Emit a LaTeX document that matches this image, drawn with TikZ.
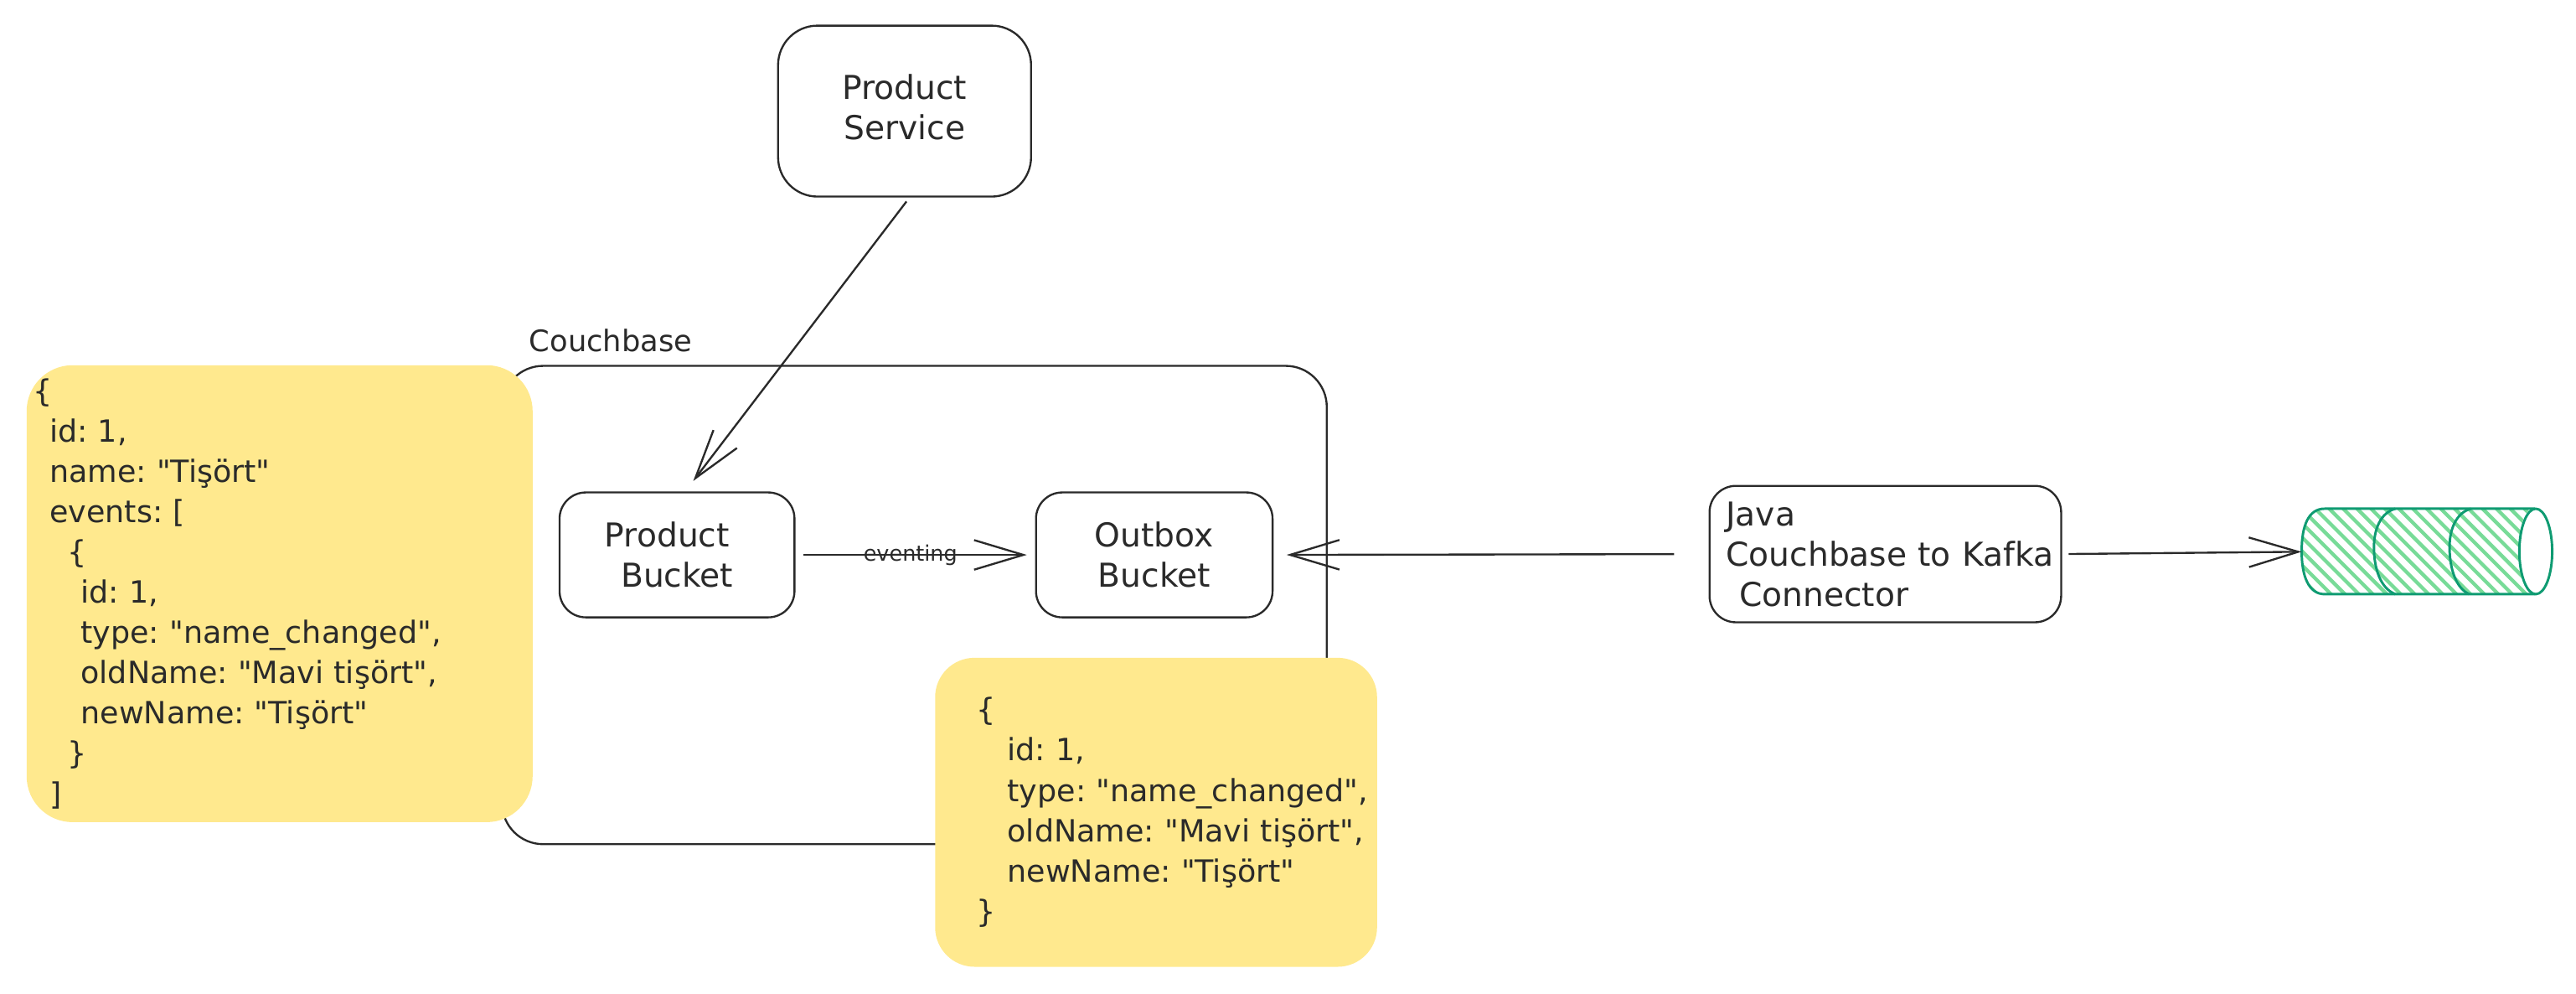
\documentclass[tikz,border=0pt]{standalone}
\usepackage{fontspec}
\setmainfont{DejaVu Sans}[Ligatures=TeXOff]
\usetikzlibrary{arrows.meta}
\definecolor{ink}{HTML}{2A2A2A}
\definecolor{note}{HTML}{FFE98E}
\definecolor{cylline}{HTML}{0F9B72}
\definecolor{hatch}{HTML}{78DB98}
\newcommand{\tx}[1]{\fontsize{#1}{24.5}\selectfont\frenchspacing}
\tikzset{
  x=1pt,y=-1pt,
  sbox/.style={draw=ink,line width=1.2pt,rounded corners=#1,fill=white,inner sep=0pt,align=center,anchor=north west,text=ink,font=\tx{20}},
  sbox/.default=16pt,
  arr/.style={draw=ink,line width=1.2pt,-{Straight Barb[length=30pt,width=18pt,line width=1.2pt]}},
  sticky/.style={fill=note,rounded corners=28pt,inner sep=0pt,anchor=north west,align=left,text=ink,font=\tx{18.6}},
  cylstroke/.style={draw=cylline,line width=1.5pt,line join=round},
}
\begin{document}
\begin{tikzpicture}
\useasboundingbox (0,0) rectangle (1568,604.3);
% Couchbase container
\node[sbox=25pt,minimum width=502pt,minimum height=291pt] (cb) at (305,222) {};
\node[anchor=west,inner sep=0pt,text=ink,font=\tx{18}] (cblabel) at (322,207) {Couchbase};
% boxes
\node[sbox=24pt,minimum width=154pt,minimum height=104pt,text depth=5pt] (ps) at (473,15) {Product\\Service};
\node[sbox,minimum width=143pt,minimum height=76pt] (pb) at (340,299) {Product\hspace*{12pt}\\Bucket};
\node[sbox,minimum width=144pt,minimum height=76pt] (ob) at (630,299) {Outbox\\Bucket};
\node[sbox,minimum width=214pt,minimum height=83pt,align=left,text width=212pt] (java) at (1040,295) {\hspace*{9pt}Java\\\hspace*{9pt}Couchbase to Kafka\\\hspace*{17pt}Connector};
% notes
\node[sticky,minimum width=308pt,minimum height=278pt,text width=300pt] (n1) at (16,222) {%
\{\\
\hspace*{10pt}id: 1,\\
\hspace*{10pt}name: "Tişört"\\
\hspace*{10pt}events: [\\
\hspace*{21pt}\{\\
\hspace*{29pt}id: 1,\\
\hspace*{29pt}type: "name\_changed",\\
\hspace*{29pt}oldName: "Mavi tişört",\\
\hspace*{29pt}newName: "Tişört"\\
\hspace*{21pt}\}\\
\hspace*{10pt}]};
\node[sticky,minimum width=269pt,minimum height=188pt,text width=265pt,rounded corners=24pt] (n2) at (569,400) {%
\hspace*{23pt}\{\\
\hspace*{42pt}id: 1,\\
\hspace*{42pt}type: "name\_changed",\\
\hspace*{42pt}oldName: "Mavi tişört",\\
\hspace*{42pt}newName: "Tişört"\\
\hspace*{23pt}\}\\[10pt]};
% cylinder
\node[minimum width=153pt,minimum height=52pt,inner sep=0pt,anchor=north west] (cyl) at (1401,309.5) {};
\begin{scope}
\clip (1543,309.5) -- (1415,309.5) .. controls (1405,309.5) and (1401,320) .. (1401,335.5) .. controls (1401,350) and (1405,361.5) .. (1415,361.5) -- (1543,361.5) .. controls (1536,361.5) and (1533.5,350) .. (1533.5,335.5) .. controls (1533.5,320) and (1536,309.5) .. (1543,309.5) -- cycle;
\foreach \k in {-40,-34,...,200} {
  \draw[hatch,line width=2.2pt] (1380+\k*1.414,300) -- ++(80,80);
}
\end{scope}
\draw[cylstroke] (1543,309.5) -- (1415,309.5) .. controls (1405,309.5) and (1401,320) .. (1401,335.5) .. controls (1401,350) and (1405,361.5) .. (1415,361.5) -- (1543,361.5);
\draw[cylstroke] (1543.5,335.5) ellipse [x radius=10,y radius=26];
\draw[cylstroke] (1458,309.5) .. controls (1449,312) and (1445,322) .. (1445,333) .. controls (1445,346) and (1449,358) .. (1458,361.5);
\draw[cylstroke] (1504,309.5) .. controls (1495,312) and (1491,322) .. (1491,333) .. controls (1491,346) and (1495,358) .. (1503,361.5);
% connectors
\draw[arr,shorten <=3pt,shorten >=8pt] ([xshift=3pt]ps.south) -- ([xshift=5pt]pb.north);
\draw[arr,shorten <=5pt,shorten >=5pt] (pb.east) -- node[inner sep=0pt,text=ink,pos=0.48,font=\fontsize{13}{14}\selectfont]{eventing} (ob.west);
\draw[arr,shorten <=21pt,shorten >=8pt] (java.west) -- (ob.east);
\draw[arr,shorten <=4pt,shorten >=0pt] (java.east) -- (cyl.west);
\end{tikzpicture}
\end{document}
